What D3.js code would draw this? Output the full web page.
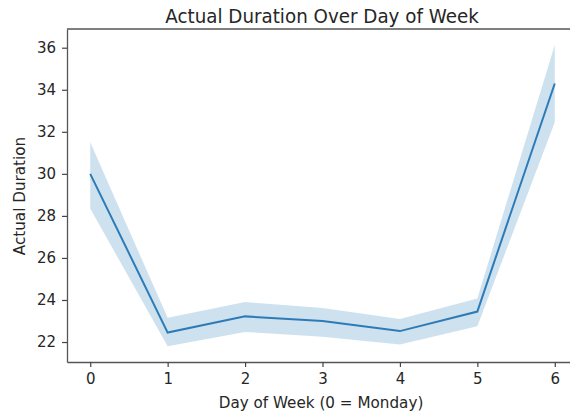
<!DOCTYPE html>
<html><head><meta charset="utf-8">
<script src="https://cdn.jsdelivr.net/npm/d3@7"></script>
<style>body{margin:0;background:#fff}svg{display:block}text{font-family:"DejaVu Sans",sans-serif;fill:#262626}</style>
</head><body><div id="chart"></div>
<script>
const days = [0, 1, 2, 3, 4, 5, 6];
const meanDuration = [30.0, 22.45, 23.22, 23.0, 22.52, 23.45, 34.3];
const ciLower = [28.35, 21.8, 22.48, 22.25, 21.88, 22.75, 32.45];
const ciUpper = [31.5, 23.15, 23.9, 23.62, 23.1, 24.07, 36.13];
const yTicks = [22, 24, 26, 28, 30, 32, 34, 36];
const xTicks = [0, 1, 2, 3, 4, 5, 6];
const titleText = "Actual Duration Over Day of Week";
const xLabel = "Day of Week (0 = Monday)";
const yLabel = "Actual Duration";

const W = 570, H = 414;
const m = {left: 67, top: 29, right: 578, bottom: 362};
const svg = d3.select("#chart").append("svg").attr("width", W).attr("height", H);
const x = d3.scaleLinear().domain([-0.3, 6.3]).range([m.left, m.right]);
const y = d3.scaleLinear().domain([21.05, 36.89]).range([m.bottom, m.top]);

const data = days.map((d, i) => ({d, m: meanDuration[i], lo: ciLower[i], hi: ciUpper[i]}));
svg.append("path").datum(data)
  .attr("d", d3.area().x(p => x(p.d)).y0(p => y(p.lo)).y1(p => y(p.hi)))
  .attr("fill", "#1f77b4").attr("fill-opacity", 0.22);
svg.append("path").datum(data)
  .attr("d", d3.line().x(p => x(p.d)).y(p => y(p.m)))
  .attr("fill", "none").attr("stroke", "#2d7bb6").attr("stroke-width", 2);

const xAxis = svg.append("g").attr("transform", `translate(0,${m.bottom})`)
  .call(d3.axisBottom(x).tickValues(xTicks).tickFormat(d3.format("d")).tickSize(5).tickSizeOuter(0).tickPadding(6));
const yAxis = svg.append("g").attr("transform", `translate(${m.left},0)`)
  .call(d3.axisLeft(y).tickValues(yTicks).tickFormat(d3.format("d")).tickSize(5).tickSizeOuter(0).tickPadding(6));
[xAxis, yAxis].forEach(g => {
  g.select(".domain").attr("stroke", "#555").attr("stroke-width", 1.3);
  g.selectAll(".tick line").attr("stroke", "#444").attr("stroke-width", 1.2);
  g.selectAll(".tick text").attr("font-size", 15).attr("fill", "#262626").attr("font-family", "DejaVu Sans");
});
// top spine
svg.append("line").attr("x1", m.left).attr("x2", m.right).attr("y1", m.top).attr("y2", m.top)
  .attr("stroke", "#555").attr("stroke-width", 1.3);

svg.append("g").attr("transform", "translate(322,22.5) scale(1,1.1)")
  .append("text").attr("text-anchor", "middle").attr("font-size", 18.3).text(titleText);
svg.append("g").attr("transform", "translate(321,408) scale(1,1.1)")
  .append("text").attr("text-anchor", "middle").attr("font-size", 15.2).text(xLabel);
svg.append("g").attr("transform", "translate(25,196) rotate(-90) scale(1,1.1)")
  .append("text").attr("text-anchor", "middle").attr("font-size", 15.2).text(yLabel);
</script></body></html>
